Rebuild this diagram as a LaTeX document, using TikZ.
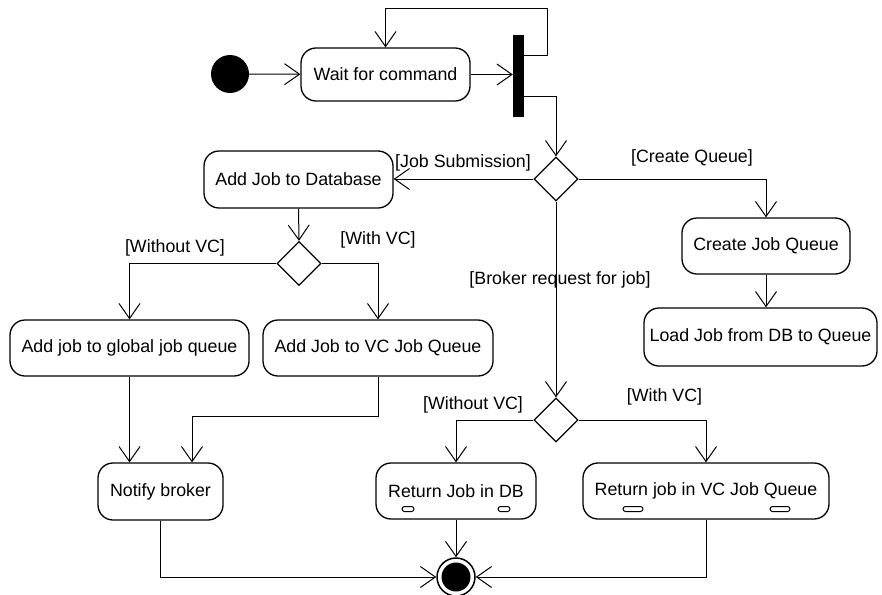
\documentclass[tikz,border=0pt]{standalone}
\usepackage{fontspec}
\setmainfont{Liberation Sans}
\usetikzlibrary{arrows.meta,shapes.geometric,calc}

\tikzset{
  action/.style={draw, line width=1.3pt, rounded corners=15pt, inner sep=0pt,
    minimum height=56pt, align=center},
  choice/.style={draw, diamond, line width=1.3pt, inner sep=0pt, aspect=1,
    minimum width=44pt, minimum height=44pt},
  portbox/.style={draw, line width=1pt, rounded corners=2.5pt, inner sep=0pt,
    minimum height=5pt},
  flow/.style={line width=1pt, -{Straight Barb[length=15pt, width=21pt, line width=1pt]}},
  guard/.style={inner sep=0pt}
}

\begin{document}
\begin{tikzpicture}[x=1pt, y=-1pt, font=\fontsize{17.8}{21}\selectfont]
  \useasboundingbox (0,0) rectangle (882,594);

  % initial node, first action and the fork bar
  \node[circle, fill=black, minimum size=38pt, inner sep=0pt] (start) at (230,74) {};
  \node[action, minimum width=169pt, minimum height=53pt] (wait) at (385.5,74.5) {Wait for command};
  \node[fill=black, inner sep=0pt, minimum width=11pt, minimum height=82pt] (bar) at (518.5,76) {};

  % main decision and its branches
  \node[choice] (d1) at (556,179) {};
  \node[action, minimum width=189pt, minimum height=57pt] (adddb) at (298.5,179.5) {Add Job to Database};
  \node[action, minimum width=168pt] (createq) at (766,246) {Create Job Queue};
  \node[action, minimum width=233pt, minimum height=58pt] (loadq) at (760.5,337) {Load Job from DB to Queue};

  % job submission branch
  \node[choice] (d2) at (299,263.5) {};
  \node[action, minimum width=239pt] (global) at (129.5,348) {Add job to global job queue};
  \node[action, minimum width=230pt] (vcq) at (378,348) {Add Job to VC Job Queue};
  \node[action, minimum width=125pt, minimum height=57pt] (notify) at (160.5,491.5) {Notify broker};

  % broker request branch
  \node[choice] (d3) at (556,420) {};
  \node[action, minimum width=160pt] (retdb) at (456,491) {Return Job in DB};
  \node[action, minimum width=246pt] (retvc) at (706,491) {Return job in VC Job Queue};

  % output pins of the two return actions
  \node[portbox, minimum width=12pt] (retdbA) at ($(retdb)+(-48,18)$) {};
  \node[portbox, minimum width=12pt] (retdbB) at ($(retdb)+(48,18)$) {};
  \node[portbox, minimum width=20pt] (retvcA) at ($(retvc)+(-73,18)$) {};
  \node[portbox, minimum width=20pt] (retvcB) at ($(retvc)+(74,18)$) {};

  % final node
  \node[circle, draw, line width=1.5pt, minimum size=38pt, inner sep=0pt] (final) at (456,577) {};
  \fill (final) circle (14.5);

  % guard labels
  \node[guard] (gjob) at (463,163) {[Job Submission]};
  \node[guard] (gcreate) at (692,158) {[Create Queue]};
  \node[guard] (gbroker) at (560,280) {[Broker request for job]};
  \node[guard] (gwo1) at (175,247.5) {[Without VC]};
  \node[guard] (gw1) at (378,240) {[With VC]};
  \node[guard] (gwo2) at (473,405) {[Without VC]};
  \node[guard] (gw2) at (664.5,396.5) {[With VC]};

  % control flows
  \draw[flow] (start) -- (wait);
  \draw[flow] (wait) -- (wait -| bar.west);
  \draw[flow] ($(bar.north east)+(0,21)$) -- ++(23,0) |- ($(wait.north)+(0,-39)$) -- (wait.north);
  \draw[flow] ($(bar.south east)+(0,-21)$) -| (d1.north);
  \draw[flow] (d1.west) -- (d1.west -| adddb.east);
  \draw[flow] (d1.east) -| (createq.north);
  \draw[flow] (d1.south) -- (d3.north);
  \draw[flow] (createq.south) -- (createq.south |- loadq.north);
  \draw[flow] (adddb.south) -- (d2.north);
  \draw[flow] (d2.west) -| (global.north);
  \draw[flow] (d2.east) -| (vcq.north);
  \draw[flow] (global.south) -- (global.south |- notify.north);
  \draw[flow] (vcq.south) -- ++(0,40) -| ($(notify.north)+(31.5,0)$);
  \draw[flow] (d3.west) -| (retdb.north);
  \draw[flow] (d3.east) -| (retvc.north);
  \draw[flow] (retdb.south) -- (final.north);
  \draw[flow] (retvc.south) |- (final.east);
  \draw[flow] (notify.south) |- (final.west);
\end{tikzpicture}
\end{document}
